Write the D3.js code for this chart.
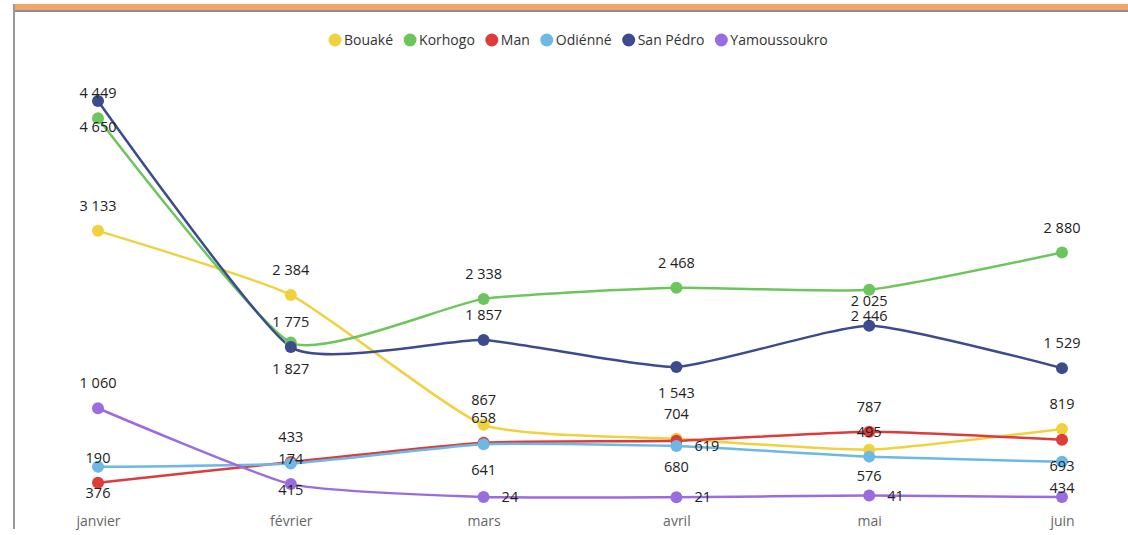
<!DOCTYPE html>
<html>
<head>
<meta charset="utf-8">
<script src="https://cdn.jsdelivr.net/npm/d3@7"></script>
<style>
  body { margin: 0; background: #fff; }
  svg { display: block; font-family: "Segoe UI", "Open Sans", "DejaVu Sans", sans-serif; }
</style>
</head>
<body>
<div id="chart"></div>
<script>
const months = ['janvier', 'février', 'mars', 'avril', 'mai', 'juin'];
const cities = ['Bouaké', 'Korhogo', 'Man', 'Odiénné', 'San Pédro', 'Yamoussoukro'];
const colors = ['#f2d13f', '#6cc65b', '#de3b3b', '#6cb8e6', '#3b4b8e', '#9a6ce0'];

const bouake = [3133, 2384, 867, 704, 576, 819];
const korhogo = [4449, 1827, 2338, 2468, 2446, 2880];
const man = [190, 433, 658, 680, 787, 693];
const odienne = [376, 415, 641, 619, 495, 434];
const sanPedro = [4650, 1775, 1857, 1543, 2025, 1529];
const yamoussoukro = [1060, 174, 24, 21, 41, 22];

// where each data label sits: 'a' above, 'b' below, 'r' right, '' hidden
const labelPos = [
  ['a', 'a', 'a', 'a', 'b', 'a'],
  ['a', 'b', 'a', 'a', 'b', 'a'],
  ['a', 'a', 'a', 'b', 'a', 'b'],
  ['b', 'b', 'b', 'r', 'a', 'b'],
  ['b', 'a', 'a', 'b', 'a', 'a'],
  ['a', 'a', 'r', 'r', 'r', '']
];

const series = [bouake, korhogo, man, odienne, sanPedro, yamoussoukro];

const W = 1128, H = 535;
const svg = d3.select('#chart').append('svg').attr('width', W).attr('height', H);

// frame
svg.append('rect').attr('x', 13).attr('y', 4).attr('width', W - 13).attr('height', 6).attr('fill', '#f2a564');
svg.append('rect').attr('x', 13).attr('y', 10).attr('width', W - 13).attr('height', 2).attr('fill', '#8a88a8');
svg.append('rect').attr('x', 13).attr('y', 4).attr('width', 2).attr('height', 525).attr('fill', '#9a9a9a');

const x = d3.scalePoint().domain(months).range([98, 1062]);
const y = d3.scaleLinear().domain([0, 4650]).range([499, 101]);

// legend
const legend = svg.append('g').attr('transform', 'translate(335,40)');
let lx = 0;
cities.forEach((c, i) => {
  const g = legend.append('g').attr('transform', `translate(${lx},0)`);
  g.append('circle').attr('r', 6.5).attr('fill', colors[i]);
  const t = g.append('text').attr('x', 9).attr('dy', '0.35em')
    .attr('font-size', 14).attr('fill', '#333').text(c);
  lx += 9 + t.node().getComputedTextLength() + 17;
});

// x axis
const xAxis = svg.append('g').attr('transform', 'translate(0,511)')
  .call(d3.axisBottom(x).tickSize(0).tickPadding(5));
xAxis.select('.domain').remove();
xAxis.selectAll('text').attr('font-size', 14).attr('fill', '#666')
  .attr('font-family', '"Segoe UI", "Open Sans", "DejaVu Sans", sans-serif');

const line = d3.line()
  .x((d, i) => x(months[i]))
  .y(d => y(d))
  .curve(d3.curveCardinal.tension(0.5));

const fmt = v => d3.format(',')(v).replace(/,/g, ' ');

series.forEach((vals, s) => {
  svg.append('path').datum(vals)
    .attr('d', line).attr('fill', 'none')
    .attr('stroke', colors[s]).attr('stroke-width', 2.5);
});

series.forEach((vals, s) => {
  svg.append('g').selectAll('circle').data(vals).join('circle')
    .attr('cx', (d, i) => x(months[i])).attr('cy', d => y(d))
    .attr('r', 6).attr('fill', colors[s]);
});

series.forEach((vals, s) => {
  const pts = vals.map((v, i) => ({ v, i, p: labelPos[s][i] })).filter(d => d.p !== '');
  svg.append('g').selectAll('text').data(pts).join('text')
    .attr('x', d => d.p === 'r' ? x(months[d.i]) + 18 : x(months[d.i]))
    .attr('y', d => d.p === 'a' ? y(d.v) - 25 : d.p === 'b' ? y(d.v) + 26 : y(d.v))
    .attr('dy', '0.35em')
    .attr('text-anchor', d => d.p === 'r' ? 'start' : 'middle')
    .attr('font-size', 14.5).attr('fill', '#222')
    .text(d => fmt(d.v));
});
</script>
</body>
</html>
